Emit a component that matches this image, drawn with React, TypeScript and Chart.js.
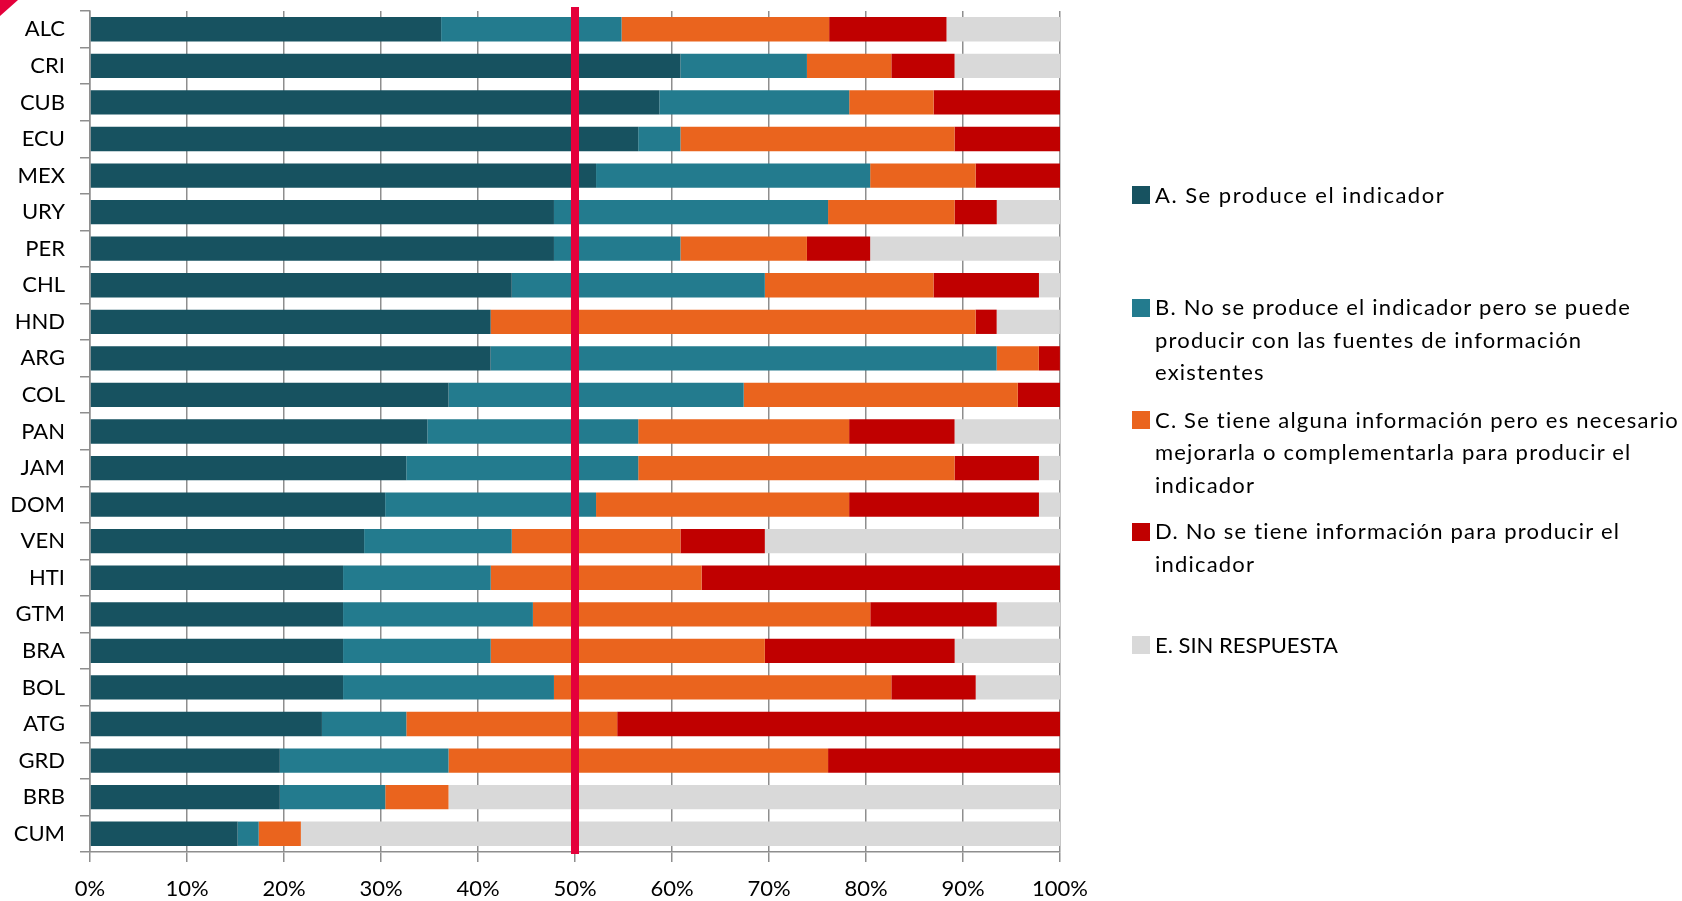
import React, { useEffect, useRef } from "react";
import { Chart, registerables } from "chart.js";

Chart.register(...registerables);

const categories = [
  "ALC", "CRI", "CUB", "ECU", "MEX", "URY", "PER", "CHL", "HND", "ARG", "COL", "PAN",
  "JAM", "DOM", "VEN", "HTI", "GTM", "BRA", "BOL", "ATG", "GRD", "BRB", "CUM",
];

const seriesLabels = [
  "A. Se produce el indicador",
  "B. No se produce el indicador pero se puede producir con las fuentes de información existentes",
  "C. Se tiene alguna información pero es necesario mejorarla o complementarla para producir el indicador",
  "D. No se tiene información para producir el indicador",
  "E. SIN RESPUESTA",
];

const legendLines = [
  ["A. Se produce el indicador"],
  ["B. No se produce el indicador pero se puede", "producir con las fuentes de información", "existentes"],
  ["C. Se tiene alguna información pero es necesario", "mejorarla o complementarla para producir el", "indicador"],
  ["D. No se tiene información para producir el", "indicador"],
  ["E. SIN RESPUESTA"],
];

const valuesA = [36.2, 60.87, 58.7, 56.52, 52.17, 47.83, 47.83, 43.48, 41.3, 41.3, 36.96, 34.78, 32.61, 30.43, 28.26, 26.09, 26.09, 26.09, 26.09, 23.91, 19.57, 19.57, 15.22];
const valuesB = [18.6, 13.04, 19.57, 4.35, 28.26, 28.26, 13.04, 26.09, 0, 52.17, 30.43, 21.74, 23.91, 21.74, 15.22, 15.22, 19.57, 15.22, 21.74, 8.7, 17.39, 10.87, 2.17];
const valuesC = [21.4, 8.7, 8.7, 28.26, 10.87, 13.04, 13.04, 17.39, 50.0, 4.35, 28.26, 21.74, 32.61, 26.09, 17.39, 21.74, 34.78, 28.26, 34.78, 21.74, 39.13, 6.52, 4.35];
const valuesD = [12.1, 6.52, 13.04, 10.87, 8.7, 4.35, 6.52, 10.87, 2.17, 2.17, 4.35, 10.87, 8.7, 19.57, 8.7, 36.96, 13.04, 19.57, 8.7, 45.65, 23.91, 0, 0];
const valuesE = [11.7, 10.87, 0, 0, 0, 6.52, 19.57, 2.17, 6.52, 0, 0, 10.87, 2.17, 2.17, 30.43, 0, 6.52, 10.87, 8.7, 0, 0, 63.04, 78.26];

const xTicks = [0, 10, 20, 30, 40, 50, 60, 70, 80, 90, 100];
const THRESHOLD = 50;

const colors = ["#175260", "#237B8E", "#EA641E", "#C00000", "#D9D9D9"];
const LINE_RED = "#E4003B";
const GRID = "#8e8e8e";
const FONT = "Lato, 'Open Sans', sans-serif";

const W = 1682;
const H = 901;

const thresholdPlugin = {
  id: "thresholdLine",
  afterDatasetsDraw(chart: any) {
    const { ctx, chartArea, scales } = chart;
    const x = scales.x.getPixelForValue(THRESHOLD);
    ctx.save();
    ctx.strokeStyle = LINE_RED;
    ctx.lineWidth = 8;
    ctx.beginPath();
    ctx.moveTo(x, chartArea.top - 4);
    ctx.lineTo(x, chartArea.bottom + 2);
    ctx.stroke();
    ctx.restore();
  },
};

const legendTops = [195, 307.7, 420, 531.7, 645];
const legendSpacing = ["1.5px", "1.2px", "1.2px", "1.2px", "0px"];

export default function App() {
  const ref = useRef<HTMLCanvasElement | null>(null);

  useEffect(() => {
    if (!ref.current) return;
    const allValues = [valuesA, valuesB, valuesC, valuesD, valuesE];
    const chart = new Chart(ref.current, {
      type: "bar",
      data: {
        labels: categories,
        datasets: allValues.map((vals, i) => ({
          label: seriesLabels[i],
          data: vals,
          backgroundColor: colors[i],
          borderWidth: 0,
          categoryPercentage: 1,
          barPercentage: 0.665,
        })),
      },
      options: {
        indexAxis: "y",
        responsive: false,
        animation: false,
        devicePixelRatio: 1,
        layout: { padding: { top: 11, right: W - 1060, bottom: 0, left: 0 } },
        plugins: {
          legend: { display: false },
          tooltip: { enabled: false },
          title: { display: false },
        },
        scales: {
          x: {
            type: "linear",
            stacked: true,
            min: 0,
            max: 100,
            afterBuildTicks: (scale: any) => {
              scale.ticks = xTicks.map((v) => ({ value: v }));
            },
            afterFit: (scale: any) => {
              scale.height = H - 852;
            },
            ticks: {
              color: "#000",
              font: { family: FONT, size: 22 },
              padding: 14,
              callback: (v: any) => v + "%",
              maxRotation: 0,
              autoSkip: false,
            },
            grid: {
              color: GRID,
              lineWidth: 1.5,
              drawTicks: true,
              tickLength: 10,
              drawOnChartArea: true,
            },
            border: { display: true, color: GRID, width: 1.5 },
          },
          y: {
            type: "category",
            stacked: true,
            afterFit: (scale: any) => {
              scale.width = 90;
              scale.paddingTop = 0;
              scale.paddingBottom = 0;
            },
            ticks: {
              color: "#000",
              font: { family: FONT, size: 22 },
              padding: 15,
              autoSkip: false,
            },
            grid: {
              offset: true,
              drawOnChartArea: false,
              drawTicks: true,
              tickLength: 10,
              color: GRID,
              lineWidth: 1.5,
            },
            border: { display: true, color: GRID, width: 1.5 },
          },
        },
      },
      plugins: [thresholdPlugin],
    });
    return () => chart.destroy();
  }, []);

  return (
    <div
      style={{
        position: "absolute",
        left: 0,
        top: 0,
        width: W,
        height: H,
        background: "#fff",
        overflow: "hidden",
        fontFamily: FONT,
      }}
    >
      <canvas ref={ref} width={W} height={H} style={{ display: "block", width: W, height: H }} />
      <div
        style={{
          position: "absolute",
          left: 0,
          top: 0,
          width: 18,
          height: 16,
          background: LINE_RED,
          clipPath: "polygon(0 0, 100% 0, 0 100%)",
        }}
      />
      {legendLines.map((lines, i) => (
        <div key={i}>
          <div
            style={{
              position: "absolute",
              left: 1132,
              top: legendTops[i] - 9,
              width: 18,
              height: 18,
              background: colors[i],
            }}
          />
          <div
            style={{
              position: "absolute",
              left: 1155,
              top: legendTops[i] - 16.25,
              fontSize: 22,
              lineHeight: "32.5px",
              color: "#000",
              whiteSpace: "nowrap",
              letterSpacing: legendSpacing[i],
            }}
          >
            {lines.map((t, j) => (
              <div key={j}>{t}</div>
            ))}
          </div>
        </div>
      ))}
    </div>
  );
}
